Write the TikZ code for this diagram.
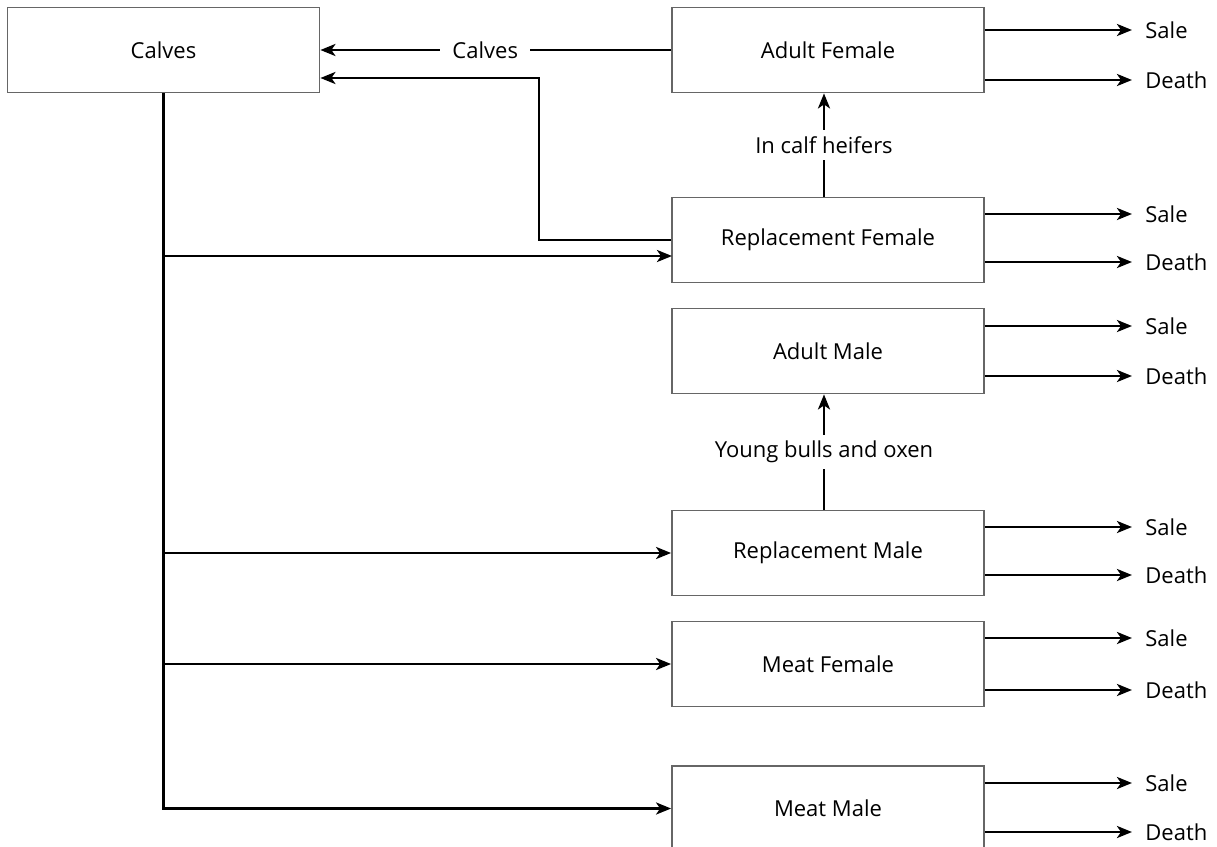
\documentclass[tikz,border=0pt]{standalone}
\usepackage{fontspec}
\setmainfont{Open Sans}
\usetikzlibrary{arrows.meta}

\begin{document}
\begin{tikzpicture}[x=0.5pt,y=-0.5pt,font=\fontsize{11}{13}\selectfont,
  box/.style={draw=black!60,line width=0.9pt,minimum width=156pt,minimum height=42.5pt,inner sep=0pt},
  flow/.style={-{Stealth[length=7.5pt,width=6pt,inset=2pt]},line width=1.4pt},
  outlbl/.style={anchor=west,inner xsep=6.5pt,inner ysep=1pt}]
  \useasboundingbox (0,0) rectangle (1217,847);
  % boxes
  \node[box] (calves) at (163.5,50) {Calves};
  \node[box] (af) at (828,50) {Adult Female};
  \node[box] (rf) at (828,240) {Replacement Female};
  \node[box] (am) at (828,351) {Adult Male};
  \node[box] (rm) at (828,553) {Replacement Male};
  \node[box] (mf) at (828,664) {Meat Female};
  \node[box] (mm) at (828,808.5) {Meat Male};
  % calves back to the calves box
  \draw[flow] (af.west) -- node[pos=0.53,fill=white,inner xsep=6pt] {Calves} (af.west -| calves.east);
  \coordinate (bend) at (539,78);
  \draw[flow] (rf.west) -| (bend) -- (bend -| calves.east);
  % calves out to the young stock
  \coordinate (rfin) at (672,256);
  \draw[flow] (calves.south) |- (mm.west);
  \draw[flow] (calves.south |- rfin) -- (rfin);
  \foreach \p in {rm,mf} \draw[flow] (calves.south |- \p.west) -- (\p.west);
  % promotions
  \draw[flow] ([xshift=-2pt]rf.north) -- node[fill=white,inner sep=3pt] {In calf heifers} ([xshift=-2pt]af.south);
  \draw[flow] ([xshift=-2pt]rm.north) -- node[fill=white,inner sep=3pt] {Young bulls and oxen} ([xshift=-2pt]am.south);
  % sale and death
  \foreach \b/\s/\d in {af/30/80,rf/214/262,am/326/376,rm/527/575,mf/638/690,mm/783/832}{
    \node[outlbl] (\b-sale) at (1132,\s) {Sale};
    \node[outlbl] (\b-death) at (1132,\d) {Death};
    \draw[flow] (\b.east |- \b-sale) -- (\b-sale);
    \draw[flow] (\b.east |- \b-death) -- (\b-death);
  }
\end{tikzpicture}
\end{document}
